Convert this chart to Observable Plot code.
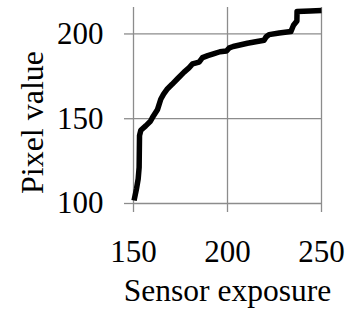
<!DOCTYPE html>
<html>
<head>
<meta charset="utf-8">
<script src="https://cdn.jsdelivr.net/npm/d3@7"></script>
<script src="https://cdn.jsdelivr.net/npm/@observablehq/plot@0.6"></script>
<style>
  html, body { margin: 0; padding: 0; background: #fff; }
  #chart svg { display: block; }
</style>
</head>
<body>
<div id="chart"></div>
<script>
const exposure = [150.3, 151.6, 152.5, 153.0, 153.2, 153.9, 156.5, 159.0, 160.5, 162.8,
  164.5, 166.0, 168.1, 170.5, 173.4, 176.9, 179.5, 181.4, 184.9, 186.7,
  189.5, 192.9, 196.0, 199.5, 201.0, 203.0, 207.1, 210.6, 215.0, 219.5,
  220.5, 222.1, 227.5, 233.7, 234.5, 235.1, 236.9, 237.0, 244.0, 250.0];
const pixelValue = [101.8, 108.7, 114.6, 121.4, 140.0, 143.2, 145.8, 148.5, 151.5, 155.5,
  161.5, 164.5, 167.7, 170.3, 173.6, 177.5, 180.0, 182.3, 183.4, 186.0,
  187.2, 188.4, 189.5, 190.0, 191.8, 192.6, 193.6, 194.5, 195.4, 196.3,
  198.2, 199.6, 200.6, 201.4, 203.5, 205.1, 207.6, 213.3, 213.6, 213.8];
const xTicks = [150, 200, 250];
const yTicks = [100, 150, 200];
const xLabel = "Sensor exposure";
const yLabel = "Pixel value";

const data = exposure.map((x, i) => ({x, y: pixelValue[i]}));
const gray = "#8c8c8c";

const chart = Plot.plot({
  width: 354,
  height: 320,
  marginTop: 7,
  marginBottom: 117,
  marginLeft: 133,
  marginRight: 33,
  style: {fontFamily: "'Liberation Serif', 'Times New Roman', serif", fontSize: "31px", color: "black", background: "white"},
  x: {domain: [150, 250]},
  y: {domain: [100, 215.6]},
  marks: [
    Plot.gridX({ticks: xTicks, stroke: gray, strokeOpacity: 1, strokeWidth: 1.3}),
    Plot.gridY({ticks: yTicks, stroke: gray, strokeOpacity: 1, strokeWidth: 1.3}),
    Plot.axisX({ticks: xTicks, tickSize: 9, tickPadding: 27, fontSize: 31, stroke: gray, strokeWidth: 1.3, fill: "black", label: null}),
    Plot.axisY({ticks: yTicks, tickSize: 9, tickPadding: 21, fontSize: 31, stroke: gray, strokeWidth: 1.3, fill: "black", label: null}),
    Plot.line(data, {x: "x", y: "y", stroke: "black", strokeWidth: 5.5, strokeLinejoin: "round", strokeLinecap: "butt"}),
    Plot.text([xLabel], {frameAnchor: "bottom", textAnchor: "middle", lineAnchor: "bottom", dy: 97, fontSize: 31.5, fill: "black"}),
    Plot.text([yLabel], {frameAnchor: "left", textAnchor: "middle", lineAnchor: "bottom", rotate: -90, dx: -91, dy: 17, fontSize: 32, fill: "black"})
  ]
});
document.getElementById("chart").appendChild(chart);
</script>
</body>
</html>
